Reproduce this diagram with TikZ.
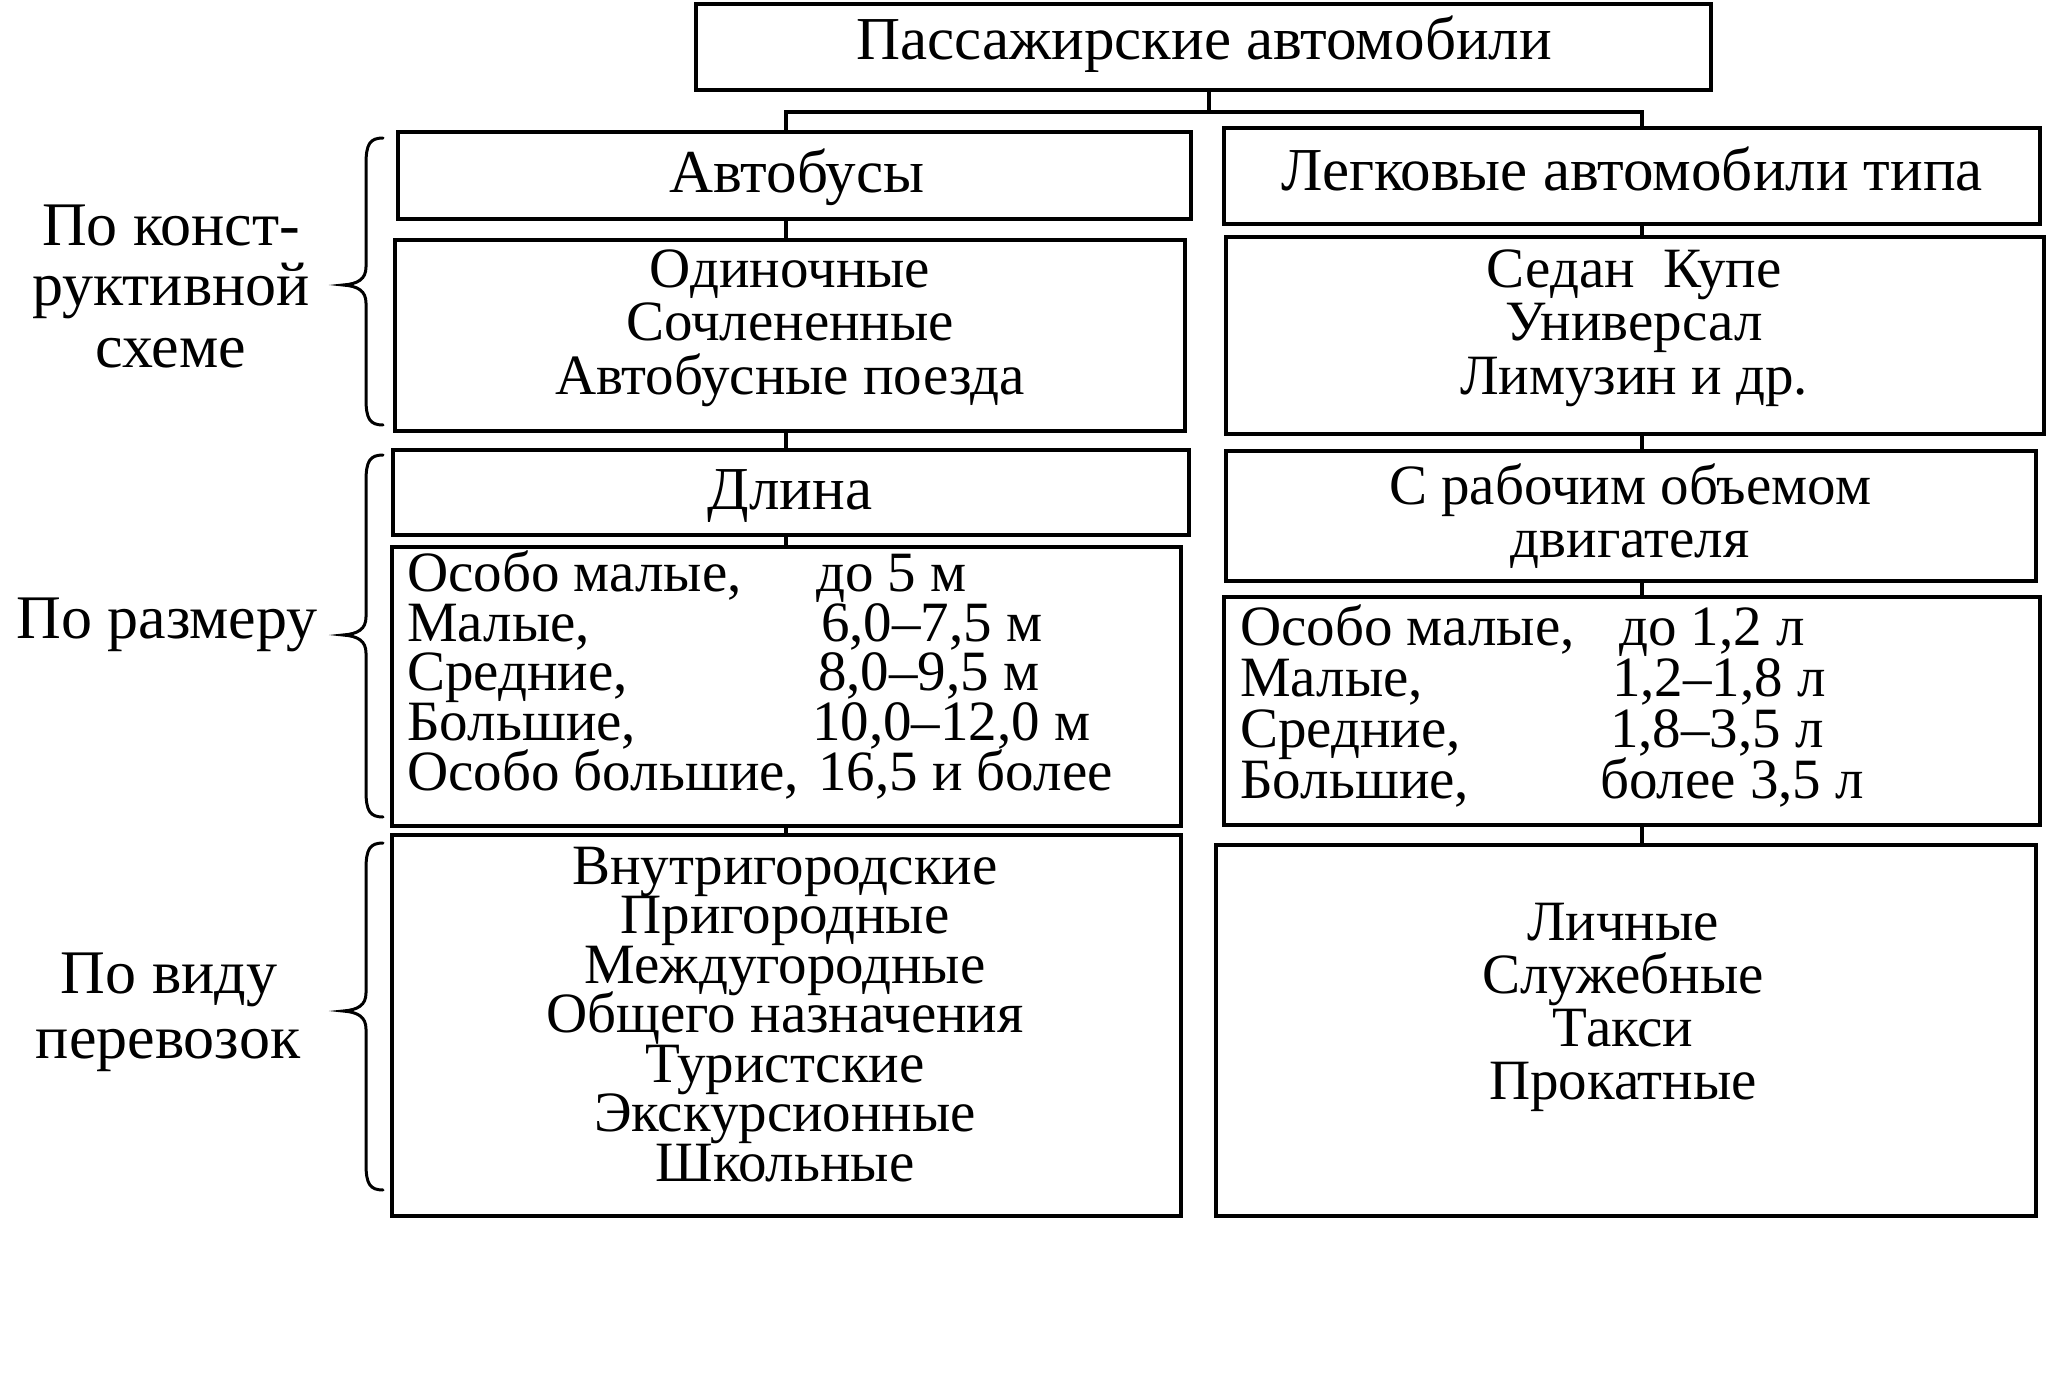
\documentclass[tikz,border=0pt]{standalone}
\usepackage{fontspec}
\setmainfont{Liberation Serif}
\usetikzlibrary{fit}
\newcommand\drawbrace[3]{%
  \draw[bracel] (383,#1) .. controls (370,#1) and (366,#1+6) .. (366,#1+26)
    -- (366,#2-18) .. controls (366,#2-6) and (358,#2-1) .. (343,#2)
    .. controls (358,#2+1) and (366,#2+6) .. (366,#2+18)
    -- (366,#3-26) .. controls (366,#3-6) and (370,#3) .. (383,#3);}
\begin{document}
\begin{tikzpicture}[x=1pt,y=-1pt,
  box/.style={draw, line width=4.8pt, inner sep=0pt},
  conn/.style={line width=4.8pt},
  hconn/.style={line width=3.5pt},
  bracel/.style={line width=3pt, line cap=round},
  txt/.style={inner sep=0pt, anchor=base, text height=37pt, text depth=10pt, font=\fontsize{57}{50}\selectfont},
  big/.style={inner sep=0pt, anchor=base, text height=40pt, text depth=12pt, font=\fontsize{61}{55}\selectfont},
  lab/.style={inner sep=0pt, anchor=base, text height=41pt, text depth=13pt, font=\fontsize{62}{60}\selectfont},
  cell/.style={inner sep=0pt, anchor=base west, text height=37pt, text depth=10pt, font=\fontsize{57}{50}\selectfont}]
\useasboundingbox (0,0) rectangle (2048,1378);

% boxes
\node[box, fit={(696,4) (1711,90)}] (title) {};
\node[box, fit={(398,132) (1191,219)}] (avt) {};
\node[box, fit={(1224,128) (2040,224)}] (leg) {};
\node[box, fit={(395,240) (1185,431)}] (odin) {};
\node[box, fit={(1226,237) (2044,434)}] (sedan) {};
\node[box, fit={(393,450) (1189,535)}] (dlina) {};
\node[box, fit={(1226,451) (2036,581)}] (rab) {};
\node[box, fit={(392,547) (1181,826)}] (lsize) {};
\node[box, fit={(1224,597) (2040,825)}] (rsize) {};
\node[box, fit={(392,835) (1181,1216)}] (lbot) {};
\node[box, fit={(1216,845) (2036,1216)}] (rbot) {};

% connectors
\coordinate (colL) at (786,0);
\coordinate (colR) at (1642,0);
\coordinate (hub) at (1209,112);
\draw[conn] (title.south -| hub) -- (hub);
\draw[hconn] (avt.north -| colL) -- (colL |- hub) -- (colR |- hub) -- (leg.north -| colR);
\draw[conn] (avt.south -| colL) -- (odin.north -| colL);
\draw[conn] (odin.south -| colL) -- (dlina.north -| colL);
\draw[conn] (dlina.south -| colL) -- (lsize.north -| colL);
\draw[conn] (lsize.south -| colL) -- (lbot.north -| colL);
\draw[conn] (leg.south -| colR) -- (sedan.north -| colR);
\draw[conn] (sedan.south -| colR) -- (rab.north -| colR);
\draw[conn] (rab.south -| colR) -- (rsize.north -| colR);
\draw[conn] (rsize.south -| colR) -- (rbot.north -| colR);

% braces
\drawbrace{138}{285}{425}
\drawbrace{455}{635}{817}
\drawbrace{843}{1011}{1190}

% texts
\node[big] (titleT) at (1204,60) {Пассажирские автомобили};
\node[big] (avtT) at (797,192) {Автобусы};
\node[big] (legT) at (1632,190) {Легковые автомобили типа};
\node[big] (dlinaT) at (790,509) {Длина};

\node[txt] (odin1) at (790,287) {Одиночные};
\node[txt] (odin2) at (790,340) {Сочлененные};
\node[txt] (odin3) at (790,394) {Автобусные поезда};

\node[txt] (sed1) at (1634,287) {Седан~~Купе};
\node[txt] (sed2) at (1634,340) {Универсал};
\node[txt] (sed3) at (1634,394) {Лимузин и др.};

\node[txt] (rab1) at (1630,504) {С рабочим объемом};
\node[txt] (rab2) at (1630,557) {двигателя};

\node[cell] (ls1) at (407,591) {Особо малые,};
\node[cell] (ls1v) at (816,591) {до 5 м};
\node[cell] (ls2) at (407,641) {Малые,};
\node[cell] (ls2v) at (821,641) {6,0–7,5 м};
\node[cell] (ls3) at (407,690) {Средние,};
\node[cell] (ls3v) at (818,690) {8,0–9,5 м};
\node[cell] (ls4) at (407,740) {Большие,};
\node[cell] (ls4v) at (812,740) {10,0–12,0 м};
\node[cell] (ls5) at (407,790) {Особо большие,};
\node[cell] (ls5v) at (818,790) {16,5 и более};

\node[cell] (rs1) at (1240,645) {Особо малые,};
\node[cell] (rs1v) at (1619,645) {до 1,2 л};
\node[cell] (rs2) at (1240,696) {Малые,};
\node[cell] (rs2v) at (1612,696) {1,2–1,8 л};
\node[cell] (rs3) at (1240,747) {Средние,};
\node[cell] (rs3v) at (1610,747) {1,8–3,5 л};
\node[cell] (rs4) at (1240,798) {Большие,};
\node[cell] (rs4v) at (1600,798) {более 3,5 л};

\foreach \t [count=\i] in {Внутригородские, Пригородные, Междугородные, Общего назначения, Туристские, Экскурсионные, Школьные}
  \node[txt] (lb\i) at (785,{884+49.5*(\i-1)}) {\t};

\foreach \t [count=\i] in {Личные, Служебные, Такси, Прокатные}
  \node[txt] (rb\i) at (1623,{940+53.3*(\i-1)}) {\t};

\node[lab] (k1) at (171,245) {По конст-};
\node[lab] (k2) at (171,305) {руктивной};
\node[lab] (k3) at (171,367) {схеме};
\node[lab] (k4) at (167,638) {По размеру};
\node[lab] (k5) at (169,993) {По виду};
\node[lab] (k6) at (168,1058) {перевозок};
\end{tikzpicture}
\end{document}
